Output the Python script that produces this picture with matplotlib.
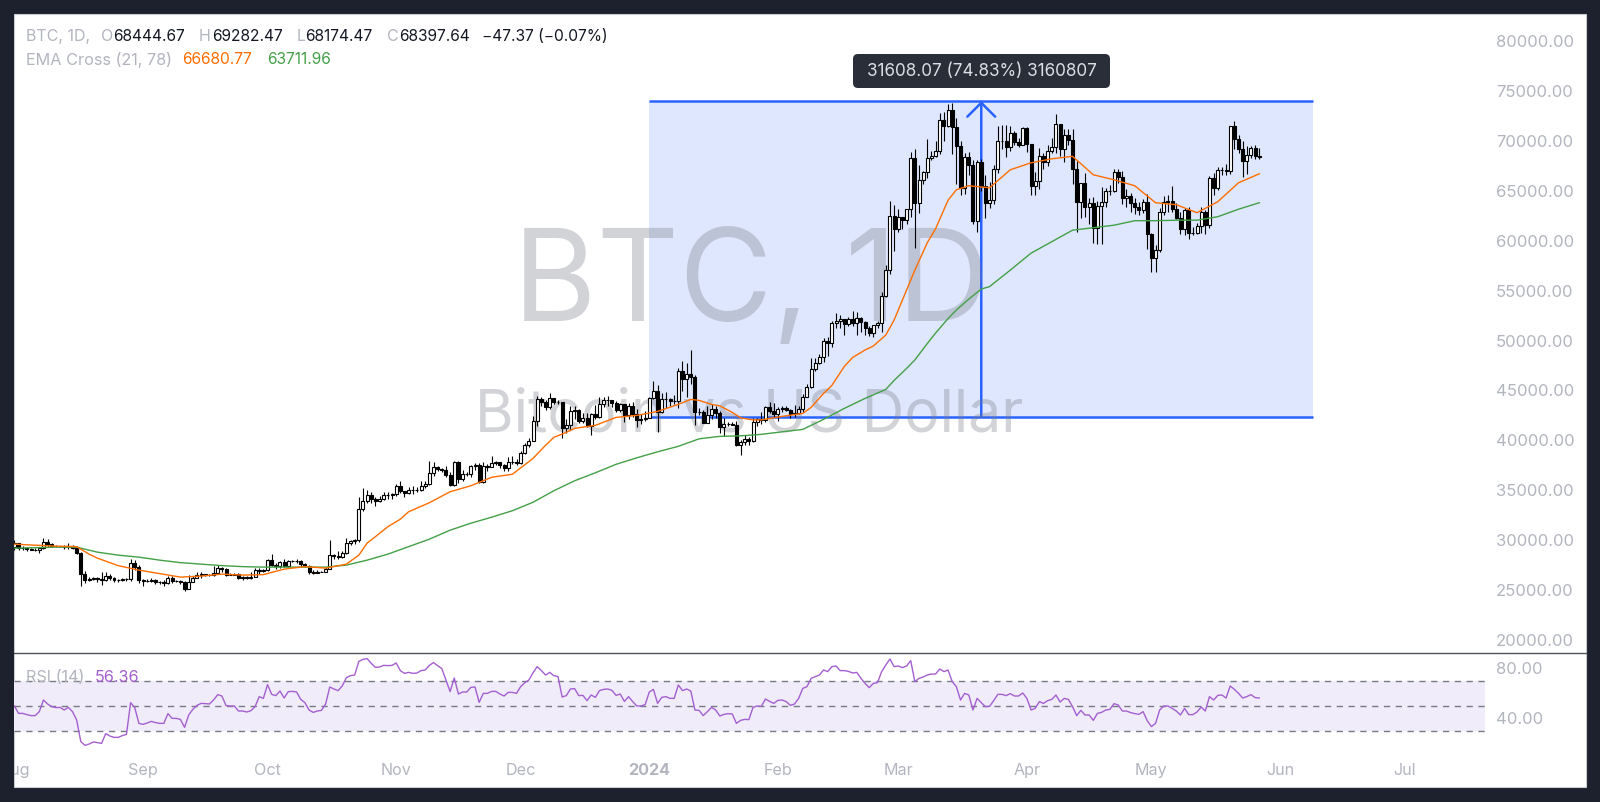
#!/usr/bin/env python3
"""BTC daily candles with EMA cross, measure tool and RSI pane. Writes out.png."""
import matplotlib
matplotlib.use("Agg")
import matplotlib.dates as mdates
import matplotlib.pyplot as plt
import numpy as np
import pandas as pd
from matplotlib.patches import FancyBboxPatch, Rectangle
from matplotlib.transforms import IdentityTransform

# Daily OHLC in thousands of USD, Aug 2023 .. May 2024, one line per month.
opens = [
    29.3,29.7,29.2,29.2,29.1,29.05,29.05,29.2,29.8,29.6,29.4,29.4,29.4,29.3,29.4,29.2,28.7,26.6,26.05,26.1,26.2,26.1,26.05,26.4,26.2,26.05,26.0,26.1,26.1,27.7,27.3,
    26.0,25.9,25.95,26.0,25.8,25.8,25.75,26.2,25.9,25.9,25.85,25.15,25.85,26.2,26.5,26.6,26.55,26.5,26.75,27.2,27.1,26.55,26.55,26.6,26.25,26.3,26.2,26.35,27.0,26.9,
    27.0,28.0,27.5,27.4,27.8,27.4,27.9,27.95,27.95,27.6,27.4,26.85,26.75,26.85,26.85,27.15,28.5,28.4,28.3,28.7,29.7,29.9,29.99,33.1,33.9,34.5,34.15,33.9,34.1,34.5,34.5,
    34.65,35.4,34.9,34.7,35.05,35.05,35.05,35.4,35.65,36.7,37.3,37.1,37.05,36.5,35.55,37.85,36.15,36.6,36.6,37.4,37.5,35.8,37.4,37.3,37.7,37.8,37.5,37.25,37.85,37.85,
    37.7,38.7,39.5,39.95,41.95,44.1,43.8,43.3,44.2,43.8,43.8,41.25,41.5,42.9,43.0,41.95,42.25,41.4,42.65,42.3,43.65,44.0,44.0,43.75,43.0,43.6,42.5,43.45,42.6,42.05,42.15,
    42.25,44.2,44.95,42.85,44.15,44.15,43.95,43.95,46.95,46.1,46.65,46.35,42.85,42.85,41.75,42.5,43.15,42.75,41.3,41.6,41.65,41.55,39.5,39.85,40.1,39.95,41.8,42.1,42.0,43.3,42.95,
    42.6,43.1,43.2,43.0,42.6,42.7,43.1,44.35,45.3,47.15,47.75,48.3,49.95,49.7,51.8,51.95,52.15,51.65,52.15,51.8,52.3,51.85,51.3,50.75,51.55,51.75,54.5,57.05,62.5,
    61.2,62.4,62.05,63.15,68.3,63.8,66.1,66.9,68.3,68.5,69.0,72.1,71.45,73.1,71.4,69.5,65.3,68.4,67.6,62.0,67.85,65.5,63.8,64.05,67.2,69.95,70.0,69.4,70.8,69.9,69.6,
    71.3,69.65,65.45,65.95,68.5,67.85,69.0,69.35,71.65,69.15,70.6,70.05,67.2,63.9,65.75,63.4,63.8,61.3,63.5,63.85,64.95,64.95,66.85,66.4,64.3,64.5,63.75,63.4,63.1,63.85,
    60.65,58.25,59.1,62.9,63.9,64.0,63.15,62.3,61.2,63.05,60.8,60.8,61.45,62.9,61.55,66.25,65.25,67.05,67.05,66.95,71.45,70.15,69.15,67.95,68.55,69.3,68.44,
]
highs = [
    30.0,29.7,29.4,29.3,29.2,29.2,29.3,30.2,30.1,29.7,29.5,29.45,29.5,29.7,29.5,29.4,28.8,26.9,26.3,26.3,26.3,26.8,26.8,26.6,26.3,26.1,26.2,26.2,28.1,28.0,27.5,
    26.1,26.1,26.2,26.1,25.95,26.0,26.4,26.4,26.0,26.0,25.9,26.5,26.4,26.8,26.85,26.65,26.65,27.4,27.5,27.3,27.2,26.7,26.7,26.7,26.4,26.4,26.8,27.25,27.2,27.1,
    28.1,28.6,27.7,27.9,28.1,28.0,28.05,28.1,28.0,27.7,27.5,27.0,27.0,26.95,27.3,30.0,28.6,28.9,28.9,30.2,30.0,30.1,34.3,35.2,35.0,34.8,34.3,34.4,34.8,34.8,34.7,
    35.6,35.9,34.9,35.3,35.4,35.3,35.9,35.95,37.95,37.8,37.4,37.2,37.4,36.8,37.95,37.95,37.0,36.8,37.5,37.7,37.7,37.85,37.65,38.4,37.9,37.8,37.6,38.35,38.4,38.1,
    38.9,39.7,40.2,42.4,44.4,44.3,44.0,44.7,44.0,44.05,43.8,42.1,43.4,43.4,43.1,42.7,42.7,42.75,43.5,44.3,44.3,44.4,44.0,43.95,43.7,43.6,43.7,43.8,43.1,42.6,42.9,
    44.3,45.9,45.5,44.7,44.8,44.2,44.5,47.2,47.9,47.7,49.0,46.5,43.2,43.05,43.4,43.6,43.4,42.9,42.2,41.85,41.85,41.9,40.0,40.5,40.3,42.2,42.2,42.8,43.4,43.85,43.7,
    43.3,43.4,43.4,43.1,43.5,43.4,44.6,45.6,48.2,48.2,48.6,50.3,50.4,52.0,52.8,52.6,52.2,52.4,52.95,52.9,52.4,52.0,51.5,51.6,51.95,54.9,57.6,64.0,63.6,
    63.2,62.4,63.2,68.9,69.2,67.6,67.0,70.2,69.0,70.0,72.8,72.9,73.7,73.8,72.3,70.0,68.8,68.9,68.1,68.1,68.2,66.6,65.9,67.6,71.5,71.6,71.6,71.5,71.0,70.3,71.4,
    71.4,69.7,66.9,69.3,68.8,69.6,70.3,72.7,71.7,71.2,71.2,71.2,68.0,65.8,66.8,64.3,64.4,64.0,65.4,65.3,65.6,67.2,67.2,67.0,65.2,64.8,64.3,63.9,64.2,64.7,
    60.8,59.6,63.3,64.5,64.6,65.5,63.8,62.9,63.3,63.4,61.4,61.8,63.4,63.1,66.5,66.8,67.4,67.4,67.7,71.5,71.95,70.6,70.0,69.5,69.5,69.6,69.28,
]
lows = [
    29.0,29.0,29.0,28.9,29.0,28.95,28.7,29.1,29.3,29.3,29.3,29.3,29.1,29.1,29.1,28.6,25.4,25.7,25.9,26.0,25.8,25.5,25.9,26.0,25.8,25.8,25.9,25.9,25.9,27.0,25.7,
    25.4,25.8,25.85,25.6,25.6,25.4,25.6,25.7,25.8,25.6,24.9,25.1,25.8,26.2,26.2,26.4,26.4,26.4,26.7,26.8,26.4,26.5,26.5,26.1,26.0,26.1,26.1,26.3,26.6,26.8,
    26.9,27.4,27.15,27.2,27.3,27.3,27.85,27.7,27.3,27.3,26.6,26.6,26.7,26.8,26.8,27.1,28.1,28.1,28.2,28.6,29.5,29.6,29.85,32.9,33.7,33.7,33.4,33.8,34.0,34.1,34.1,
    34.4,34.7,34.3,34.6,34.6,34.8,34.9,35.2,35.55,36.4,36.9,36.8,36.3,35.4,35.4,35.7,35.9,36.4,36.3,37.0,35.7,35.7,36.9,37.3,37.5,37.2,36.9,36.9,37.6,37.5,
    37.6,38.6,39.3,39.9,41.4,43.4,43.0,43.1,43.6,43.6,40.2,40.7,41.0,42.1,41.7,41.7,41.3,40.5,42.1,42.2,43.3,43.4,43.3,42.8,42.8,41.8,42.1,42.3,41.3,41.6,41.9,
    42.2,44.1,40.8,42.7,43.2,43.4,43.6,43.2,44.9,44.3,45.6,41.5,42.5,41.7,41.7,42.1,42.2,40.7,40.4,41.4,41.5,39.4,38.5,39.5,39.5,39.8,41.4,41.6,41.8,42.7,42.3,
    41.9,42.8,42.9,42.2,42.3,42.6,42.8,44.3,45.2,46.9,47.6,47.8,48.4,49.3,51.3,51.3,50.6,51.5,51.5,50.6,50.9,50.6,50.5,50.4,51.3,50.9,54.4,56.7,59.0,
    60.9,61.2,61.7,62.4,59.3,62.8,65.7,66.3,68.1,68.4,68.7,70.0,71.4,68.7,65.7,64.6,64.7,66.6,61.7,60.9,65.0,62.3,63.3,63.7,66.8,69.2,68.4,69.0,69.6,69.4,69.6,
    68.9,64.6,64.6,65.2,67.2,67.5,68.8,68.8,68.5,67.9,69.6,65.7,60.9,62.3,62.4,61.7,59.8,59.7,59.7,63.4,64.6,64.9,65.8,63.7,63.4,62.9,62.7,62.6,62.8,59.2,
    56.9,56.9,58.9,62.6,62.9,62.9,62.2,60.7,60.6,60.2,60.6,60.7,60.8,60.7,61.3,64.6,65.1,66.6,66.6,66.7,69.2,68.8,66.4,66.7,68.3,68.2,68.17,
]
closes = [
    29.7,29.2,29.2,29.1,29.05,29.05,29.2,29.8,29.6,29.4,29.4,29.4,29.3,29.4,29.2,28.7,26.6,26.05,26.1,26.2,26.1,26.05,26.4,26.2,26.05,26.0,26.1,26.1,27.7,27.3,26.0,
    25.9,25.95,26.0,25.8,25.8,25.75,26.2,25.9,25.9,25.85,25.15,25.85,26.2,26.5,26.6,26.55,26.5,26.75,27.2,27.1,26.55,26.55,26.6,26.25,26.3,26.2,26.35,27.0,26.9,27.0,
    28.0,27.5,27.4,27.8,27.4,27.9,27.95,27.95,27.6,27.4,26.85,26.75,26.85,26.85,27.15,28.5,28.4,28.3,28.7,29.7,29.9,29.99,33.1,33.9,34.5,34.15,33.9,34.1,34.5,34.5,34.65,
    35.4,34.9,34.7,35.05,35.05,35.05,35.4,35.65,36.7,37.3,37.1,37.05,36.5,35.55,37.85,36.15,36.6,36.6,37.4,37.5,35.8,37.4,37.3,37.7,37.8,37.5,37.25,37.85,37.85,37.7,
    38.7,39.5,39.95,41.95,44.1,43.8,43.3,44.2,43.8,43.8,41.25,41.5,42.9,43.0,41.95,42.25,41.4,42.65,42.3,43.65,44.0,44.0,43.75,43.0,43.6,42.5,43.45,42.6,42.05,42.15,42.25,
    44.2,44.95,42.85,44.15,44.15,43.95,43.95,46.95,46.1,46.65,46.35,42.85,42.85,41.75,42.5,43.15,42.75,41.3,41.6,41.65,41.55,39.5,39.85,40.1,39.95,41.8,42.1,42.0,43.3,42.95,42.6,
    43.1,43.2,43.0,42.6,42.7,43.1,44.35,45.3,47.15,47.75,48.3,49.95,49.7,51.8,51.95,52.15,51.65,52.15,51.8,52.3,51.85,51.3,50.75,51.55,51.75,54.5,57.05,62.5,61.2,
    62.4,62.05,63.15,68.3,63.8,66.1,66.9,68.3,68.5,69.0,72.1,71.45,73.1,71.4,69.5,65.3,68.4,67.6,62.0,67.85,65.5,63.8,64.05,67.2,69.95,70.0,69.4,70.8,69.9,69.6,71.3,
    69.65,65.45,65.95,68.5,67.85,69.0,69.35,71.65,69.15,70.6,70.05,67.2,63.9,65.75,63.4,63.8,61.3,63.5,63.85,64.95,64.95,66.85,66.4,64.3,64.5,63.75,63.4,63.1,63.85,60.65,
    58.25,59.1,62.9,63.9,64.0,63.15,62.3,61.2,63.05,60.8,60.8,61.45,62.9,61.55,66.25,65.25,67.05,67.05,66.95,71.45,70.15,69.15,67.95,68.55,69.3,68.45,68.4,
]

# EMA lines at these bars (bar 0 = 1 Aug 2023).
fast_bars = [
    0,5,10,15,18,20,25,30,35,40,45,50,55,60,65,70,75,80,83,85,87,90,93,95,100,105,110,115,120,125,128,130,133,135,140,145,
    150,155,160,163,165,168,170,173,175,178,180,185,190,192,195,197,200,202,205,207,210,212,215,217,220,222,225,227,230,235,240,245,250,255,260,265,270,275,280,285,290,295,300,
]
ema_fast = [
    29.6,29.5,29.4,29.35,28.6,28.2,27.45,27.0,26.65,26.3,26.4,26.6,26.5,26.55,27.1,27.35,27.2,27.6,28.5,29.7,30.35,31.35,32.1,32.85,33.75,34.85,35.45,36.3,36.6,38.2,39.5,40.3,40.8,41.2,41.5,42.3,
    42.5,42.9,43.6,44.1,44.0,43.6,43.45,42.8,42.25,42.05,42.05,42.4,42.7,43.3,44.7,45.5,47.4,48.3,49.05,49.45,50.55,52.05,55.05,57.05,59.8,61.2,64.05,65.1,65.5,65.3,67.1,67.8,68.2,68.45,66.6,66.1,65.5,63.8,63.6,62.8,63.9,65.8,66.7,
]
slow_bars = [
    0,5,10,15,20,25,30,35,40,45,50,55,60,65,70,75,80,85,90,95,100,105,110,115,120,125,130,135,140,145,
    150,155,160,165,170,175,180,185,190,195,200,205,210,212,215,217,220,222,225,227,230,233,235,240,245,250,255,260,265,270,275,280,285,290,295,300,
]
ema_slow = [
    29.2,29.25,29.3,29.3,28.8,28.5,28.3,28.0,27.75,27.6,27.45,27.35,27.3,27.3,27.3,27.3,27.5,28.0,28.6,29.35,30.1,31.0,31.7,32.3,32.95,33.8,34.95,35.95,36.75,37.6,
    38.25,38.85,39.4,40.15,40.4,40.45,40.6,40.85,41.1,42.1,43.2,44.2,45.1,46.0,47.2,48.05,49.7,50.75,52.2,53.05,54.15,55.15,55.4,57.05,58.75,59.9,61.05,61.3,61.55,62.0,62.0,62.05,62.05,62.4,63.15,63.8,
]
rsi = [
    50.0,44.1,44.1,43.1,42.3,42.3,45.5,54.8,51.6,49.5,48.7,48.9,46.8,48.9,45.5,38.8,21.5,18.5,19.6,21.2,
    20.7,20.1,27.9,26.0,24.9,24.9,26.3,27.3,52.7,48.7,36.1,35.3,36.4,37.7,36.7,36.1,36.1,43.9,40.1,40.1,
    39.3,32.9,42.8,47.3,50.5,52.1,51.9,51.6,54.8,59.1,58.0,50.3,50.0,50.0,46.0,46.0,45.2,46.3,49.5,57.5,
    56.1,67.1,59.3,58.3,62.0,56.4,61.5,61.7,61.2,55.3,52.7,46.8,44.9,46.0,46.5,51.6,65.2,63.6,62.3,66.0,
    72.7,74.3,74.8,85.7,87.3,87.9,84.1,80.9,81.2,82.5,82.3,82.5,84.4,78.3,76.1,76.9,76.1,76.4,78.3,78.8,
    82.5,84.7,82.3,79.9,70.8,61.5,72.4,59.6,61.2,61.2,64.9,65.2,52.9,60.1,60.1,61.7,61.7,59.6,58.0,60.9,
    60.9,60.1,65.5,68.7,70.8,76.7,81.5,78.3,74.8,76.9,74.3,73.5,57.2,58.3,63.6,63.9,58.3,58.5,54.3,58.8,
    56.9,62.3,63.3,63.6,62.5,58.5,59.6,53.7,57.5,53.5,50.0,50.0,51.1,61.2,63.3,52.1,56.9,57.5,56.1,56.1,
    66.8,62.3,63.6,62.0,46.8,46.5,42.3,45.5,48.9,46.8,42.0,43.3,43.9,43.6,36.1,38.5,39.3,39.1,48.9,50.0,
    49.7,55.6,53.7,52.1,54.5,54.8,53.5,50.5,51.6,56.1,64.1,65.5,72.1,73.5,74.8,78.8,77.5,81.5,82.0,78.3,
    78.3,77.7,76.4,76.9,72.1,68.1,64.7,68.1,68.7,77.5,82.8,87.6,81.5,82.0,80.7,82.0,86.3,69.5,72.1,73.2,
    74.8,75.6,75.6,79.6,77.5,78.8,69.5,65.5,54.8,60.1,58.8,46.8,56.1,52.7,49.5,49.7,54.3,59.3,59.3,58.3,
    59.9,58.0,58.0,60.4,56.1,46.8,48.1,53.5,52.1,54.3,55.3,58.8,53.2,56.1,55.3,49.5,42.3,46.5,42.8,42.8,
    38.5,44.1,44.9,46.8,47.3,51.9,50.8,46.0,46.0,44.7,43.9,43.3,45.5,38.3,33.5,36.1,46.8,50.0,50.0,48.1,
    46.0,42.8,48.1,43.1,43.1,45.2,49.2,46.0,57.5,54.8,58.5,58.8,56.4,66.0,63.3,60.1,56.4,57.5,59.1,56.7,
    56.4,
]

price_ticks = [20000, 25000, 30000, 35000, 40000, 45000, 50000, 55000, 60000, 65000, 70000, 75000, 80000]
rsi_ticks = [40, 80]
rsi_levels = [30, 50, 70]
month_ticks = ["2023-08-01", "2023-09-01", "2023-10-01", "2023-11-01", "2023-12-01", "2024-01-01",
               "2024-02-01", "2024-03-01", "2024-04-01", "2024-05-01", "2024-06-01", "2024-07-01"]
month_labels = ["Aug", "Sep", "Oct", "Nov", "Dec", "2024", "Feb", "Mar", "Apr", "May", "Jun", "Jul"]

# Measure tool.
range_low, range_high = 42382, 73990
range_start, range_end, range_arrow = "2024-01-01", "2024-06-09", "2024-03-21"

W, H = 1600, 802
C_DARK = "#1c212d"
C_TEXT = "#b2b5be"
C_BLUE = "#2962ff"
C_FAST = "#ff6d00"
C_SLOW = "#43a047"
C_RSI = "#a45fd0"

plt.rcParams.update({"font.family": ["Inter", "DejaVu Sans"], "font.size": 11})


def fx(x):
    return x / W


def fy(y):
    return 1 - y / H


def label(fig, x, y, s, color=C_TEXT, size=11.2):
    fig.text(fx(x), fy(y), s, color=color, fontsize=size, va="center", ha="left")


def draw_price(ax):
    fig = ax.figure
    dates = pd.date_range("2023-08-01", periods=len(closes))
    x = mdates.date2num(dates)
    o, h, l, c = (np.array(a) * 1000 for a in (opens, highs, lows, closes))
    up = c >= o

    left, right = mdates.datestr2num(range_start), mdates.datestr2num(range_end)
    ax.add_patch(Rectangle((left, range_low), right - left, range_high - range_low,
                           fc="#dee7fd", ec="none", zorder=1))
    ax.hlines([range_low, range_high], left, right, color=C_BLUE, lw=1.8, zorder=2)
    arrow_x = mdates.datestr2num(range_arrow)
    ax.annotate("", xy=(arrow_x, range_high), xytext=(arrow_x, range_low), zorder=2,
                arrowprops=dict(arrowstyle="->,head_length=1.0,head_width=1.0", mutation_scale=10,
                                color=C_BLUE, lw=1.8, shrinkA=0, shrinkB=0))

    ax.text(fx(751), fy(287), "BTC, 1D", transform=fig.transFigure, fontsize=92, color="#787b86", alpha=0.33,
            ha="center", va="center", zorder=3)
    ax.text(fx(749), fy(415.5), "Bitcoin vs US Dollar", transform=fig.transFigure, fontsize=42.5, color="#787b86",
            alpha=0.33, ha="center", va="center", zorder=3)

    ax.vlines(x, l, h, color="black", lw=0.8, zorder=4)
    ax.bar(x[up], (c - o)[up], bottom=o[up], width=0.72, fc="white", ec="black", lw=0.8, zorder=5)
    ax.bar(x[~up], (o - c)[~up], bottom=c[~up], width=0.72, fc="black", ec="black", lw=0.8, zorder=5)

    ax.plot(x[slow_bars], np.array(ema_slow) * 1000, color=C_SLOW, lw=1.0, zorder=6)
    ax.plot(x[fast_bars], np.array(ema_fast) * 1000, color=C_FAST, lw=1.0, zorder=6)

    ax.set_xlim(x[0] - 0.1, x[0] + 354.4)
    ax.set_ylim(18698, 82705)
    ax.set_xticks([])
    ax.set_yticks(price_ticks, [f"{p:.2f}" for p in price_ticks])
    ax.yaxis.tick_right()
    ax.tick_params(axis="y", length=0, pad=8, labelsize=12, labelcolor=C_TEXT)
    for s in ax.spines.values():
        s.set_visible(False)
    ax.patch.set_alpha(0)


def draw_rsi(ax):
    x = mdates.date2num(pd.date_range("2023-08-01", periods=len(rsi)))
    ax.axhspan(rsi_levels[0], rsi_levels[-1], fc="#f0ecf9", ec="none", zorder=1)
    for lv in rsi_levels:
        ax.axhline(lv, color="#787b86", lw=1.0, dashes=(4.5, 4), zorder=2)
    ax.plot(x, rsi, color=C_RSI, lw=1.0, zorder=3)

    ax.set_xlim(x[0] - 0.1, x[0] + 354.4)
    ax.set_ylim(10.8, 92.4)
    ax.set_yticks(rsi_ticks, [f"{v:.2f}" for v in rsi_ticks])
    ax.yaxis.tick_right()
    ax.set_xticks([mdates.datestr2num(d) for d in month_ticks], month_labels)
    ax.tick_params(axis="both", length=0, labelcolor=C_TEXT)
    ax.tick_params(axis="y", pad=8, labelsize=12)
    ax.tick_params(axis="x", pad=5.5, labelsize=11.6)
    for tick in ax.get_xticklabels():
        if tick.get_text() == "2024":
            tick.set_fontweight("bold")
    for s in ax.spines.values():
        s.set_visible(False)
    ax.patch.set_alpha(0)


def draw_chrome(fig):
    fig.add_artist(Rectangle((fx(14), fy(787)), fx(1572), fy(14) - fy(787), transform=fig.transFigure,
                             fc="white", ec="#c9ccd2", lw=0.8, zorder=-1))
    # covers the part of the first month label that runs past the panel
    fig.add_artist(Rectangle((0, 0), fx(13.5), 1, transform=fig.transFigure, fc=C_DARK, ec="none", zorder=10))
    fig.add_artist(plt.Line2D([fx(14), fx(1586)], [fy(653), fy(653)], transform=fig.transFigure,
                              color="#50535e", lw=1.0, zorder=5))

    label(fig, 25.7, 36.5, "BTC, 1D,", size=11.5)
    for x, key in [(101, "O"), (199, "H"), (297, "L"), (387, "C")]:
        label(fig, x, 36.5, key, size=11.5)
    for x, val in [(113.5, "68444.67"), (212, "69282.47"), (305, "68174.47"), (399, "68397.64"),
                   (482, "\u221247.37 (\u22120.07%)")]:
        label(fig, x, 36.5, val, color="#131722")
    label(fig, 25.7, 60, "EMA Cross (21, 78)", size=11.7)
    label(fig, 182.4, 60, "66680.77", color=C_FAST)
    label(fig, 267, 60, "63711.96", color=C_SLOW)
    label(fig, 25.5, 677.5, "RSI (14)", size=11.7)
    label(fig, 95, 677.5, "56.36", color=C_RSI, size=11.7)

    # tooltip box, in device pixels so the corners stay round
    fig.add_artist(FancyBboxPatch((853, H - 88), 257, 34, boxstyle="round,pad=0,rounding_size=5",
                                  transform=IdentityTransform(), fc="#2a2e39", ec="none", zorder=6))
    fig.text(fx(981.5), fy(71), "31608.07 (74.83%) 3160807", color="#dcdee4", fontsize=12.3,
             ha="center", va="center", zorder=7)


def main():
    fig = plt.figure(figsize=(W / 100, H / 100), dpi=100, facecolor=C_DARK)
    ax_price = fig.add_axes([fx(14), fy(653), fx(1471), fy(14) - fy(653)])
    ax_rsi = fig.add_axes([fx(14), fy(755), fx(1471), fy(653) - fy(755)])
    draw_price(ax_price)
    draw_rsi(ax_rsi)
    draw_chrome(fig)
    fig.savefig("out.png", dpi=100, facecolor=C_DARK)


if __name__ == "__main__":
    main()
